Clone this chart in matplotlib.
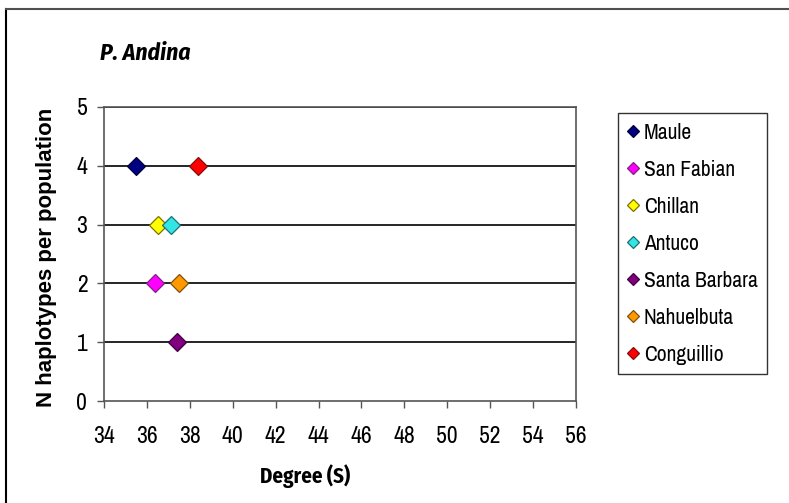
import matplotlib
matplotlib.use("Agg")
import matplotlib.pyplot as plt
from matplotlib import font_manager

# Populations, latitude (degrees S) and number of haplotypes
populations = ["Maule", "San Fabian", "Chillan", "Antuco",
               "Santa Barbara", "Nahuelbuta", "Conguillio"]
latitude = [35.5, 36.4, 36.5, 37.1, 37.4, 37.5, 38.4]
haplotypes = [4, 2, 3, 3, 1, 2, 4]
colors = ["#000080", "#FF00FF", "#FFFF00", "#33E6E6",
          "#800080", "#FF9900", "#FF0000"]
edges = ["#000040", "#802080", "#807000", "#207070",
         "#400040", "#805010", "#801010"]
x_ticks = list(range(34, 57, 2))
y_ticks = [0, 1, 2, 3, 4, 5]

installed = {f.name for f in font_manager.fontManager.ttflist}


def pick(*fams):
    chosen = [f for f in fams if f in installed]
    return chosen + ["Liberation Sans", "DejaVu Sans"]


NARROW = pick("Archivo Narrow")
NARROW_BOLD = pick("Fira Sans Condensed", "Asap Condensed", "Archivo Narrow")
plt.rcParams["font.family"] = NARROW

W, H = 789, 503
fig = plt.figure(figsize=(W / 100, H / 100), dpi=100)
fig.patch.set_facecolor("white")

# outer chart frame (top and left edges visible)
fig.add_artist(plt.Line2D([6 / W, 6 / W], [0, 1 - 9 / H],
                          transform=fig.transFigure, color="black", linewidth=1.5))
fig.add_artist(plt.Line2D([6 / W, 1], [1 - 9 / H, 1 - 9 / H],
                          transform=fig.transFigure, color="#505050", linewidth=1.5))

ax = fig.add_axes([104 / W, 1 - 401 / H, (576 - 104) / W, (401 - 107) / H])
ax.set_xlim(34, 56)
ax.set_ylim(0, 5)
ax.set_xticks(x_ticks)
ax.set_yticks(y_ticks)
ax.tick_params(axis="both", labelsize=17, direction="out", length=5,
               color="#555555", width=1)
ax.tick_params(axis="x", pad=13)
ax.tick_params(axis="y", pad=7)

for y in y_ticks[1:]:
    ax.axhline(y, color="black", linewidth=1.2, zorder=1)

for side in ["left", "bottom", "right", "top"]:
    ax.spines[side].set_color("#555555")
    ax.spines[side].set_linewidth(1.2)

for name, x, y, c, e in zip(populations, latitude, haplotypes, colors, edges):
    ax.plot([x], [y], linestyle="none", marker="D", markersize=9.5,
            markerfacecolor=c, markeredgecolor=e, markeredgewidth=0.9,
            label=name, zorder=3)

ax.set_xlabel("Degree (S)", fontsize=15, fontweight="bold",
              family=NARROW_BOLD)
ax.xaxis.set_label_coords((305 - 104) / (576 - 104), -0.215)
ax.set_ylabel("N haplotypes per population", fontsize=16, fontweight="bold",
              family=["Liberation Sans", "DejaVu Sans"])
ax.yaxis.set_label_coords(-0.10, 0.49)

fig.text(100 / W, 1 - 53 / H, "P. Andina", fontsize=17, fontstyle="italic",
         fontweight="bold", family=NARROW_BOLD, va="center", ha="left")

leg = ax.legend(loc="upper left", bbox_to_anchor=(618 / W, 1 - 113 / H),
                bbox_transform=fig.transFigure, frameon=True, fancybox=False,
                edgecolor="black", fontsize=15.5, labelspacing=0.79,
                handlelength=0.5, handletextpad=0.25, borderpad=0.45,
                markerscale=0.65, borderaxespad=0)
leg.get_frame().set_linewidth(1.0)

fig.savefig("out.png", dpi=100, facecolor="white")
